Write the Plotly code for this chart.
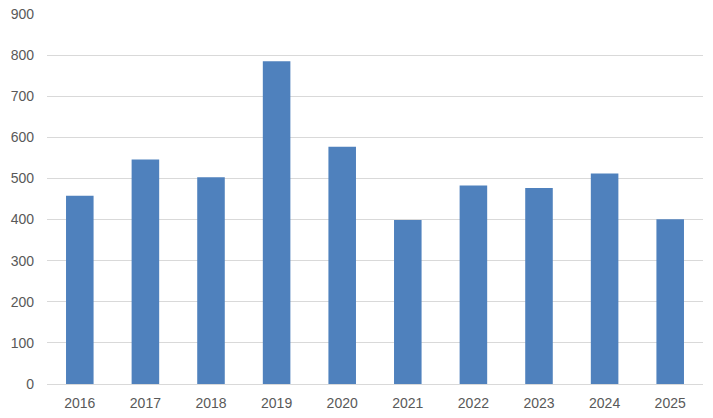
import plotly.graph_objects as go

years = ["2016", "2017", "2018", "2019", "2020", "2021", "2022", "2023", "2024", "2025"]
values = [458, 546, 503, 785, 577, 399, 483, 477, 512, 401]

fig = go.Figure(go.Bar(x=years, y=values, marker=dict(color="#4F81BD", line=dict(width=0))))

font = dict(family="Liberation Sans Narrow, Liberation Sans, Arial", size=14, color="#595959")
fig.update_layout(
    width=713, height=418,
    margin=dict(l=47, r=10, t=14, b=34),
    paper_bgcolor="white", plot_bgcolor="white",
    bargap=0.58, showlegend=False,
    font=font,
)
fig.update_xaxes(type="category", showgrid=False, showline=True, linecolor="#D9D9D9", linewidth=1,
                 ticks="", tickfont=font, ticklabelstandoff=6, automargin=False)
fig.update_yaxes(range=[0, 900], dtick=100, showgrid=True, gridcolor="#D9D9D9", gridwidth=1,
                 zeroline=False, showline=False, ticks="", tickfont=font, ticklabelstandoff=12,
                 automargin=False)
fig.write_html("out.html")
